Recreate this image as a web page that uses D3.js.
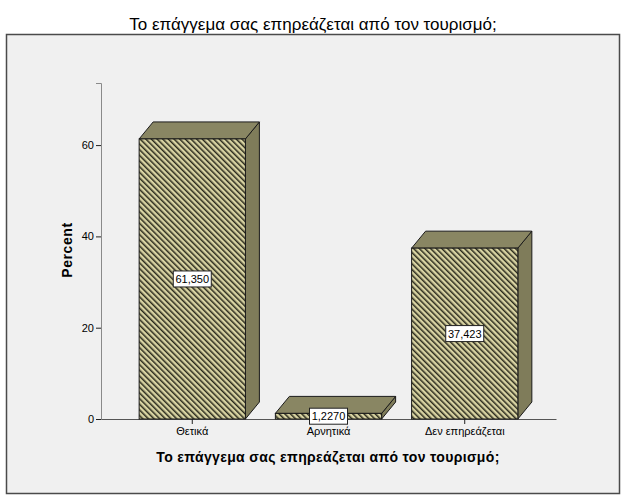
<!DOCTYPE html>
<html>
<head>
<meta charset="utf-8">
<script src="https://cdn.jsdelivr.net/npm/d3@7"></script>
<style>
  body { margin: 0; background: #fff; }
  text { font-family: "Liberation Sans", Arial, sans-serif; }
</style>
</head>
<body>
<svg id="chart" width="626" height="501"></svg>
<script>
var categories = ["Θετικά", "Αρνητικά", "Δεν επηρεάζεται"]
var percents = [61.350, 1.2270, 37.423]
var yTicks = [0, 20, 40, 60]

var titleText = "Το επάγγεμα σας επηρεάζεται από τον τουρισμό;"
var xTitle = "Το επάγγεμα σας επηρεάζεται από τον τουρισμό;"
var yTitle = "Percent"

var depthX = 14
var depthY = 17

var svg = d3.select("#chart")

// pattern for the front faces
var defs = svg.append("defs")
var pat = defs.append("pattern")
  .attr("id", "hatch")
  .attr("patternUnits", "userSpaceOnUse")
  .attr("width", 4)
  .attr("height", 4)
  .attr("patternTransform", "rotate(-45)")
pat.append("rect")
  .attr("width", 4).attr("height", 4)
  .attr("fill", "#d8d3a2")
pat.append("rect")
  .attr("x", 0).attr("y", 0)
  .attr("width", 1.5).attr("height", 4)
  .attr("fill", "#2a2a1c")

// title
svg.append("text")
  .attr("x", 313)
  .attr("y", 30)
  .attr("text-anchor", "middle")
  .attr("font-size", 17)
  .attr("fill", "#000")
  .text(titleText)

// frame
svg.append("rect")
  .attr("x", 6.5).attr("y", 34.5)
  .attr("width", 613).attr("height", 459)
  .attr("fill", "#f0f0f0")
  .attr("stroke", "#4a4a4a")
  .attr("stroke-width", 1.5)

var x = d3.scaleBand()
  .domain(categories)
  .range([101, 556])
  .paddingInner(0.22)
  .paddingOuter(0.28)

var y = d3.scaleLinear()
  .domain([0, 73.6])
  .range([419, 83])

var data = categories.map(function(c, i) { return {cat: c, val: percents[i]} })

// axes
var yAxis = d3.axisLeft(y).tickValues(yTicks).tickSize(5).tickPadding(2)
var gy = svg.append("g")
  .attr("transform", "translate(101,0)")
  .call(yAxis)
gy.select(".domain").attr("stroke", "#8a8a8a")
gy.selectAll(".tick line").attr("stroke", "#222")
gy.selectAll(".tick text").attr("font-size", 11).attr("fill", "#000")
  .attr("font-family", "Liberation Sans, Arial, sans-serif")

var xAxis = d3.axisBottom(x).tickSize(5).tickSizeOuter(0).tickPadding(3)
var gx = svg.append("g")
  .attr("transform", "translate(0,419)")
  .call(xAxis)
gx.select(".domain").attr("stroke", "#555")
gx.selectAll(".tick line").attr("stroke", "#222")
gx.selectAll(".tick text").attr("font-size", 11).attr("fill", "#000")
  .attr("font-family", "Liberation Sans, Arial, sans-serif")

// bars
var bars = svg.append("g").selectAll("g")
  .data(data)
  .enter().append("g")

function topPath(d) {
  var x0 = x(d.cat), x1 = x0 + x.bandwidth(), yt = y(d.val)
  return "M" + x0 + "," + yt + "L" + (x0 + depthX) + "," + (yt - depthY) +
    "L" + (x1 + depthX) + "," + (yt - depthY) + "L" + x1 + "," + yt + "Z"
}
function sidePath(d) {
  var x1 = x(d.cat) + x.bandwidth(), yt = y(d.val), yb = y(0)
  return "M" + x1 + "," + yt + "L" + (x1 + depthX) + "," + (yt - depthY) +
    "L" + (x1 + depthX) + "," + (yb - depthY) + "L" + x1 + "," + yb + "Z"
}

bars.append("path")
  .attr("d", sidePath)
  .attr("fill", "#7f7c5a")
  .attr("stroke", "#1a1a1a")
  .attr("stroke-width", 1)
  .attr("stroke-linejoin", "round")

bars.append("path")
  .attr("d", topPath)
  .attr("fill", "#898663")
  .attr("stroke", "#1a1a1a")
  .attr("stroke-width", 1)
  .attr("stroke-linejoin", "round")

bars.append("rect")
  .attr("x", function(d) { return x(d.cat) })
  .attr("y", function(d) { return y(d.val) })
  .attr("width", x.bandwidth())
  .attr("height", function(d) { return y(0) - y(d.val) })
  .attr("fill", "url(#hatch)")
  .attr("stroke", "#1a1a1a")
  .attr("stroke-width", 1)

// value labels
var locale = d3.formatLocale({decimal: ",", thousands: ".", grouping: [3], currency: ["", "€"]})
var fmt = locale.format(".5r")

var labels = bars.append("g")
  .attr("transform", function(d) {
    return "translate(" + (x(d.cat) + x.bandwidth() / 2) + "," + ((y(d.val) + y(0)) / 2) + ")"
  })
labels.append("rect")
  .attr("x", -19).attr("y", -8)
  .attr("width", 38).attr("height", 16)
  .attr("fill", "#fff")
  .attr("stroke", "#222")
  .attr("stroke-width", 1)
labels.append("text")
  .attr("text-anchor", "middle")
  .attr("y", 4)
  .attr("font-size", 11)
  .attr("fill", "#000")
  .text(function(d) { return fmt(d.val) })

// axis titles
svg.append("text")
  .attr("x", 328)
  .attr("y", 462)
  .attr("text-anchor", "middle")
  .attr("font-size", 14)
  .attr("font-weight", "bold")
  .attr("letter-spacing", 0.35)
  .text(xTitle)

svg.append("text")
  .attr("transform", "translate(72,250) rotate(-90)")
  .attr("text-anchor", "middle")
  .attr("font-size", 14)
  .attr("font-weight", "bold")
  .attr("letter-spacing", 0.6)
  .text(yTitle)
</script>
</body>
</html>
